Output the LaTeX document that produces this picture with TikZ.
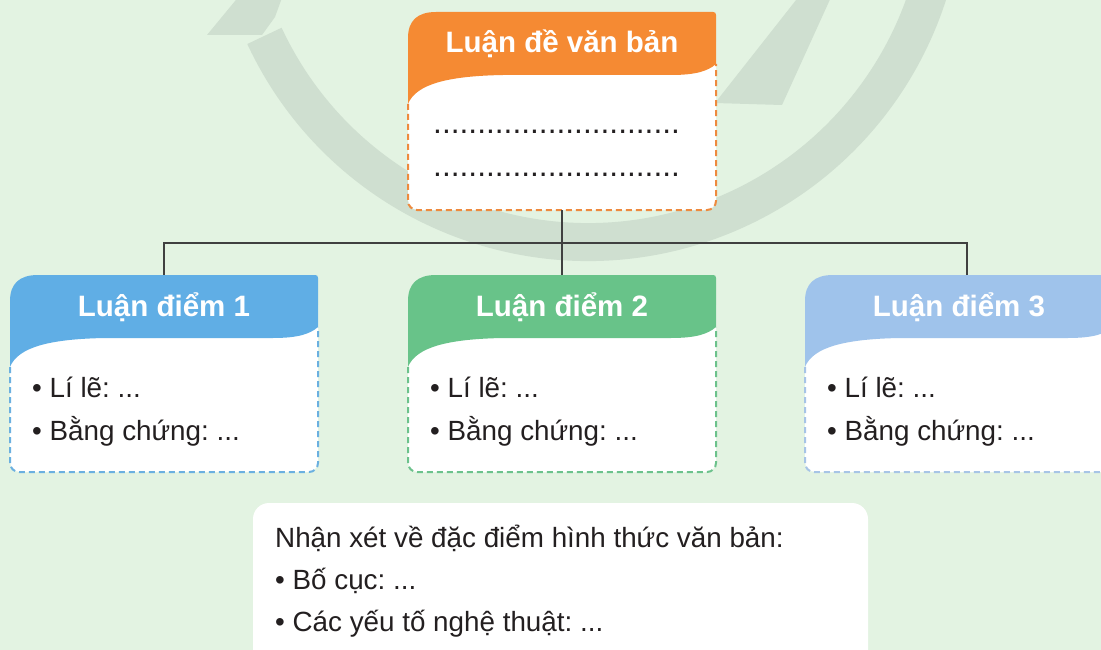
\documentclass[tikz,border=0pt]{standalone}
\usepackage{fontspec}
\setmainfont{Liberation Sans}
\frenchspacing
\definecolor{bg}{HTML}{E3F3E2}
\definecolor{ring}{HTML}{CFDFD0}
\definecolor{orangeH}{HTML}{F58A33}
\definecolor{orangeD}{HTML}{EE8A3E}
\definecolor{blueH}{HTML}{60AEE5}
\definecolor{blueD}{HTML}{6BB0E0}
\definecolor{greenH}{HTML}{68C389}
\definecolor{greenD}{HTML}{6CC28C}
\definecolor{lblueH}{HTML}{9FC3EB}
\definecolor{lblueD}{HTML}{A7C4E6}
\definecolor{txt}{HTML}{231F20}
\definecolor{connc}{HTML}{404040}
\newcommand{\cardshape}[6]{%
  \fill[white, rounded corners=10pt] (#1,#2+20) rectangle (#1+#3,#2+#4);
  \draw[#6, line width=2pt, dash pattern=on 6pt off 4pt, rounded corners=9pt]
    (#1,#2+92) -- (#1,#2+#4) -- (#1+#3,#2+#4) -- (#1+#3,#2+52);
  \fill[#5] (#1,#2+92) -- (#1,#2+26) .. controls (#1,#2+9) and (#1+9,#2) .. (#1+28,#2)
    -- (#1+#3-3,#2) .. controls (#1+#3-1,#2) and (#1+#3,#2+1) .. (#1+#3,#2+3)
    -- (#1+#3,#2+52) .. controls (#1+#3-8,#2+59) and (#1+#3-20,#2+63) .. (#1+#3-45,#2+63)
    -- (#1+95,#2+63) .. controls (#1+40,#2+64) and (#1+8,#2+72) .. (#1,#2+92) -- cycle;
}
\tikzset{
  frame/.style={inner sep=0, minimum width=308pt},
  head/.style={font=\bfseries\fontsize{29.5}{32}\selectfont, text=white, inner sep=0, anchor=base},
  body/.style={font=\frenchspacing\fontsize{27.8}{30}\selectfont, text=txt, inner sep=0, anchor=base west},
  dots/.style={font=\fontsize{31.7}{32}\selectfont, text=txt, inner sep=0, anchor=base west},
  conn/.style={draw=connc, line width=1.3pt},
}
\begin{document}
\begin{tikzpicture}[x=1pt, y=-1pt]
\useasboundingbox (0,0) rectangle (1101,650);
\clip (0,0) rectangle (1101,650);
\fill[bg] (0,0) rectangle (1101,650);
% watermark
\draw[ring, line width=38pt] (588,-115) ++(205:357pt) arc[start angle=205, end angle=365, radius=357pt];
\fill[ring] (207,35) -- (262,35) -- (275,17) -- (283,-5) -- (240,-5) -- cycle;
\fill[ring] (800,-5) -- (832,-5) -- (782,105) -- (715,103) -- cycle;
% cards
\cardshape{408}{12}{308}{198}{orangeH}{orangeD}
\cardshape{10}{275}{308}{197}{blueH}{blueD}
\cardshape{408}{275}{308}{197}{greenH}{greenD}
\cardshape{805}{275}{308}{197}{lblueH}{lblueD}
\fill[white, rounded corners=16pt] (253,503) rectangle (868,690);
% frame nodes
\node[frame, minimum height=198pt] (top) at (562,111) {};
\node[frame, minimum height=197pt] (b1) at (164,373.5) {};
\node[frame, minimum height=197pt] (b2) at (562,373.5) {};
\node[frame, minimum height=197pt] (b3) at (967,373.5) {};
\coordinate (hub) at (562,243);
% connectors
\draw[conn] (top.south) -- (b2.north);
\draw[conn] (b1.north) |- (hub) -| (b3.north);
% texts
\node[head] (t0) at (562,53) {Luận đề văn bản};
\node[dots] (d1) at (433,133.5) {............................};
\node[dots] (d2) at (433,176.5) {............................};
\node[head] (t1) at (164,316) {Luận điểm 1};
\node[head] (t2) at (562,316) {Luận điểm 2};
\node[head] (t3) at (959,316) {Luận điểm 3};
\node[body] (l1) at (32,397) {• Lí lẽ: ...};
\node[body] (e1) at (32,440) {• Bằng chứng: ...};
\node[body] (l2) at (430,397) {• Lí lẽ: ...};
\node[body] (e2) at (430,440) {• Bằng chứng: ...};
\node[body] (l3) at (827,397) {• Lí lẽ: ...};
\node[body] (e3) at (827,440) {• Bằng chứng: ...};
\node[body] (n0) at (275,547) {Nhận xét về đặc điểm hình thức văn bản:};
\node[body] (n1) at (275,589) {• Bố cục: ...};
\node[body] (n2) at (275,631) {• Các yếu tố nghệ thuật: ...};
\end{tikzpicture}
\end{document}
